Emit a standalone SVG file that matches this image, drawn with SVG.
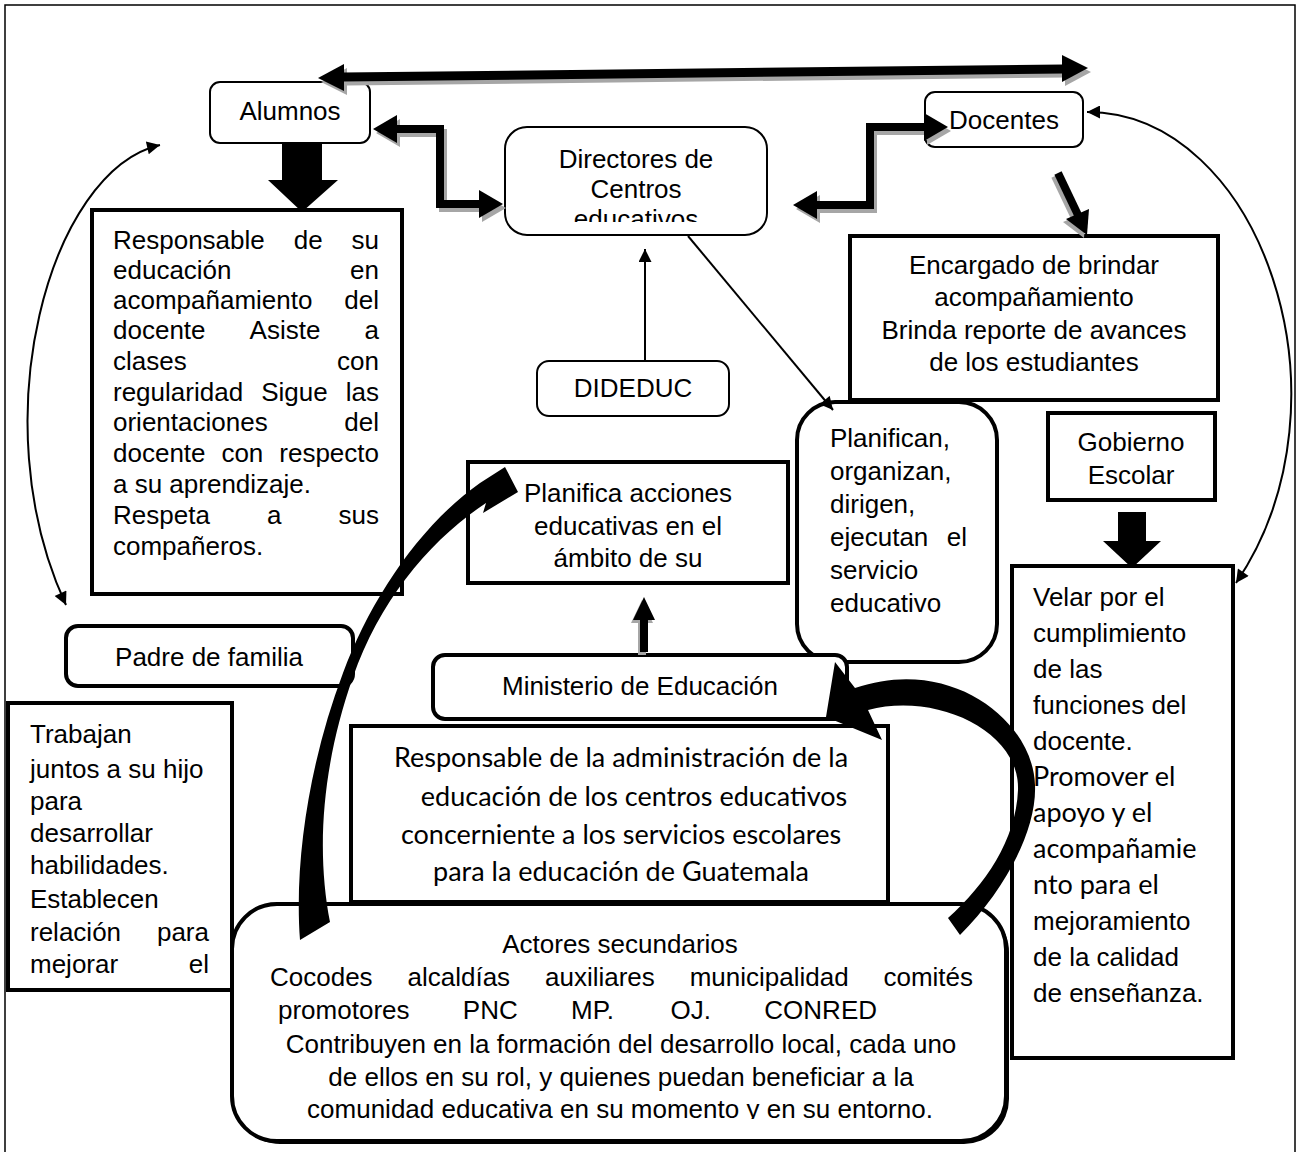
<svg xmlns="http://www.w3.org/2000/svg" width="1300" height="1152" viewBox="0 0 1300 1152">
<style>
.t{font-family:"Liberation Sans",Arial,sans-serif;font-size:26px;fill:#000}
.c{text-anchor:middle}
.e{text-anchor:end}
.cal{font-family:Lato,"Open Sans",sans-serif;font-size:27px;fill:#000}
.box{fill:#fff;stroke:#000;stroke-width:4}
.rb{fill:#fff;stroke:#000;stroke-width:2}
.ln{fill:none;stroke:#000;stroke-width:2}
</style>
<defs>
<marker id="ah" viewBox="0 0 10 10" refX="10" refY="5" markerWidth="15" markerHeight="13" markerUnits="userSpaceOnUse" orient="auto-start-reverse"><path d="M0,0 L10,5 L0,10 z" fill="#000"/></marker>
<clipPath id="clipDir"><rect x="505" y="127" width="262" height="95"/></clipPath>
<clipPath id="clipAct"><rect x="232" y="904" width="774" height="215"/></clipPath>
<g id="arrTop"><path d="M343 77 L1063 69" fill="none" stroke-width="9"/><polygon points="318,78 344,64 344,91" stroke="none"/><polygon points="1088,68 1062,55 1062,82" stroke="none"/></g>
<g id="arrB"><path d="M396 129 H440 V204 H480" fill="none" stroke-width="8"/><polygon points="373,129 397,115 397,143" stroke="none"/><polygon points="503,204 479,190 479,218" stroke="none"/></g>
<g id="arrC"><path d="M816 205 H870 V127 H925" fill="none" stroke-width="8"/><polygon points="793,205 817,191 817,219" stroke="none"/><polygon points="948,127 924,113 924,141" stroke="none"/></g>
<g id="arrD"><path d="M1058 173 L1078 215" fill="none" stroke-width="8"/><polygon points="1087,235 1089,209 1066,219" stroke="none"/></g>
<polygon id="arrMin" points="640,652 648,652 648,620 655,620 644,597 633,620 640,620"/>
</defs>
<rect x="5" y="5" width="1290" height="1160" fill="#fff" stroke="#000" stroke-width="1.5"/>

<g id="alumnos"><rect class="rb" x="210" y="82" width="160" height="61" rx="10"/><text class="t c" x="290" y="120">Alumnos</text></g>
<g id="docentes"><rect class="rb" x="925" y="92" width="158" height="55" rx="10"/><text class="t c" x="1004" y="129">Docentes</text></g>
<g id="directores"><rect class="rb" x="505" y="127" width="262" height="108" rx="22"/>
<g clip-path="url(#clipDir)"><text class="t c" x="636" y="168">Directores de</text><text class="t c" x="636" y="198">Centros</text><text class="t c" x="636" y="228">educativos</text></g></g>
<g id="responsable"><rect class="box" x="92" y="210" width="310" height="384"/>
<text class="t" x="113" y="249">Responsable</text><text class="t" x="293.7" y="249">de</text><text class="t e" x="379" y="249">su</text>
<text class="t" x="113" y="279">educación</text><text class="t e" x="379" y="279">en</text>
<text class="t" x="113" y="309">acompañamiento</text><text class="t e" x="379" y="309">del</text>
<text class="t" x="113" y="339">docente</text><text class="t" x="249.6" y="339">Asiste</text><text class="t e" x="379" y="339">a</text>
<text class="t" x="113" y="370">clases</text><text class="t e" x="379" y="370">con</text>
<text class="t" x="113" y="401">regularidad</text><text class="t" x="261.2" y="401">Sigue</text><text class="t e" x="379" y="401">las</text>
<text class="t" x="113" y="431">orientaciones</text><text class="t e" x="379" y="431">del</text>
<text class="t" x="113" y="462">docente</text><text class="t" x="221.4" y="462">con</text><text class="t e" x="379" y="462">respecto</text>
<text class="t" x="113" y="493">a su aprendizaje.</text>
<text class="t" x="113" y="524">Respeta</text><text class="t" x="266.9" y="524">a</text><text class="t e" x="379" y="524">sus</text>
<text class="t" x="113" y="555">compañeros.</text></g>
<g id="encargado"><rect class="box" x="850" y="236" width="368" height="164"/>
<text class="t c" x="1034" y="274">Encargado de brindar</text><text class="t c" x="1034" y="306">acompañamiento</text><text class="t c" x="1034" y="339">Brinda reporte de avances</text><text class="t c" x="1034" y="371">de los estudiantes</text></g>
<g id="dideduc"><rect class="rb" x="537" y="361" width="192" height="55" rx="12"/><text class="t c" x="633" y="397">DIDEDUC</text></g>
<g id="planifican"><rect class="box" x="797" y="402" width="200" height="260" rx="38"/>
<text class="t" x="830" y="447">Planifican,</text><text class="t" x="830" y="480">organizan,</text><text class="t" x="830" y="513">dirigen,</text><text class="t" x="830" y="546">ejecutan</text><text class="t e" x="967" y="546">el</text><text class="t" x="830" y="579">servicio</text><text class="t" x="830" y="612">educativo</text></g>
<g id="gobierno"><rect class="box" x="1048" y="413" width="167" height="87"/><text class="t c" x="1131" y="451">Gobierno</text><text class="t c" x="1131" y="484">Escolar</text></g>
<g id="planifica"><rect class="box" x="468" y="462" width="320" height="121"/><text class="t c" x="628" y="502">Planifica acciones</text><text class="t c" x="628" y="535">educativas en el</text><text class="t c" x="628" y="567">ámbito de su</text></g>
<g id="velar"><rect class="box" x="1012" y="566" width="221" height="492"/>
<text class="t" x="1033" y="606">Velar por el</text><text class="t" x="1033" y="642">cumplimiento</text><text class="t" x="1033" y="678">de las</text><text class="t" x="1033" y="714">funciones del</text><text class="t" x="1033" y="750">docente.</text>
<text class="cal" x="1033" y="786">Promover el</text><text class="cal" x="1033" y="822">apoyo y el</text><text class="cal" x="1033" y="858">acompañamie</text><text class="cal" x="1033" y="894">nto para el</text>
<text class="t" x="1033" y="930">mejoramiento</text><text class="t" x="1033" y="966">de la calidad</text><text class="t" x="1033" y="1002">de enseñanza.</text></g>
<g id="padre"><rect class="box" x="66" y="626" width="287" height="60" rx="12"/><text class="t c" x="209" y="666">Padre de familia</text></g>
<g id="ministerio"><rect class="box" x="433" y="655" width="414" height="64" rx="12"/><text class="t c" x="640" y="695">Ministerio de Educación</text></g>
<g id="trabajan"><rect class="box" x="8" y="703" width="224" height="287"/>
<text class="t" x="30" y="743">Trabajan</text><text class="t" x="30" y="778">juntos a su hijo</text><text class="t" x="30" y="810">para</text><text class="t" x="30" y="842">desarrollar</text><text class="t" x="30" y="874">habilidades.</text><text class="t" x="30" y="908">Establecen</text>
<text class="t" x="30" y="941">relación</text><text class="t e" x="209" y="941">para</text><text class="t" x="30" y="973">mejorar</text><text class="t e" x="209" y="973">el</text></g>
<g id="respAdmin"><rect class="box" x="351" y="726" width="537" height="176"/>
<text class="cal c" x="621" y="767">Responsable de la administración de la</text><text class="cal c" x="634" y="806">educación de los centros educativos</text><text class="cal c" x="621" y="844">concerniente a los servicios escolares</text><text class="cal c" x="621" y="881">para la educación de Guatemala</text></g>
<g id="actores"><rect x="235" y="907" width="774" height="237" rx="45" fill="#000"/><rect class="box" x="232" y="904" width="774" height="237" rx="45"/>
<g clip-path="url(#clipAct)">
<text class="t c" x="620" y="953">Actores secundarios</text>
<text class="t" x="270" y="986">Cocodes</text><text class="t" x="407.5" y="986">alcaldías</text><text class="t" x="545" y="986">auxiliares</text><text class="t" x="689.7" y="986">municipalidad</text><text class="t e" x="973" y="986">comités</text>
<text class="t" x="278" y="1019">promotores</text><text class="t" x="462.8" y="1019">PNC</text><text class="t" x="571" y="1019">MP.</text><text class="t" x="670.5" y="1019">OJ.</text><text class="t e" x="877" y="1019">CONRED</text>
<text class="t c" x="621" y="1053">Contribuyen en la formación del desarrollo local, cada uno</text>
<text class="t c" x="621" y="1086">de ellos en su rol, y quienes puedan beneficiar a la</text>
<text class="t c" x="620" y="1118">comunidad educativa en su momento y en su entorno.</text></g></g>

<g id="connectors">
<use href="#arrTop" transform="translate(3,4)" stroke="#a6a6a6" fill="#a6a6a6"/>
<use href="#arrTop" stroke="#000" fill="#000"/>
<use href="#arrB" transform="translate(3,4)" stroke="#a6a6a6" fill="#a6a6a6"/>
<use href="#arrB" stroke="#000" fill="#000"/>
<use href="#arrC" transform="translate(3,4)" stroke="#a6a6a6" fill="#a6a6a6"/>
<use href="#arrC" stroke="#000" fill="#000"/>
<use href="#arrD" transform="translate(-3,3)" stroke="#a6a6a6" fill="#a6a6a6"/>
<use href="#arrD" stroke="#000" fill="#000"/>
<use href="#arrMin" transform="translate(-2,3)" fill="#a6a6a6"/>
<use href="#arrMin" fill="#000"/>
<polygon points="282,143 322,143 322,180 338,180 302,212 268,180 282,180" fill="#000"/>
<polygon points="1118,512 1146,512 1146,541 1161,541 1132,568 1103,541 1118,541" fill="#000"/>
<path class="ln" d="M645 362 V249" marker-end="url(#ah)"/>
<path class="ln" d="M688 236 L833 410" marker-end="url(#ah)"/>
<path class="ln" d="M160 145 C50 170 -20 420 66 605" marker-start="url(#ah)" marker-end="url(#ah)"/>
<path class="ln" d="M1087 112 C1260 112 1360 400 1236 583" marker-start="url(#ah)" marker-end="url(#ah)"/>
<path d="M300 940 C294 860 310 760 343 673 C370 600 420 525 480 483 L505 467 L518 492 L483 513 L486 503 C430 540 380 600 353 677 C322 765 316 850 330 922 Z" fill="#000"/>
<path d="M960 935 C1005 890 1037 830 1035 785 C1033 720 950 655 855 688 L835 662 L826 717 L882 740 L868 710 C935 692 1020 730 1018 790 C1016 840 985 885 948 918 Z" fill="#000"/>
</g>
</svg>
